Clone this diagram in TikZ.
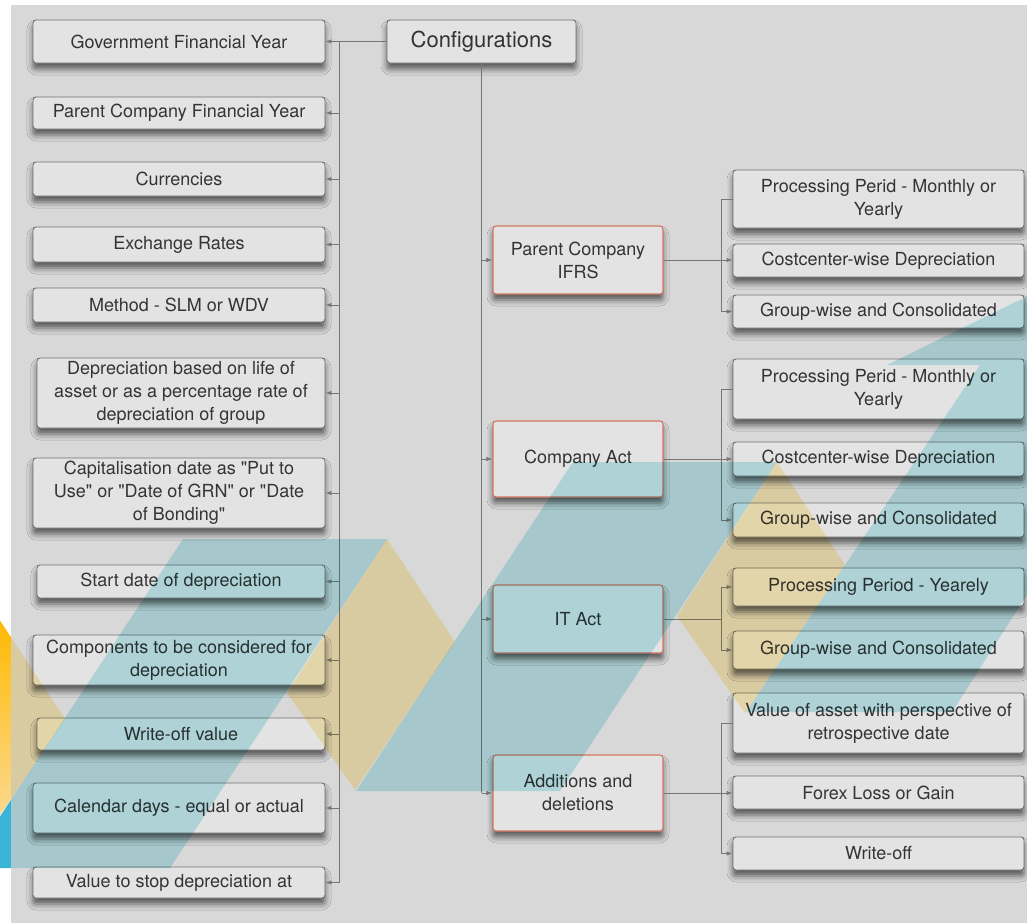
\documentclass[tikz,border=0pt]{standalone}
\usepackage{fontspec}
\newfontfamily\hel{TeX Gyre Heros}
\usetikzlibrary{arrows.meta,shadows.blur}

\definecolor{panel}{RGB}{216,216,216}
\definecolor{boxfill}{RGB}{227,227,227}
\definecolor{boxline}{RGB}{112,112,112}
\definecolor{redline}{RGB}{214,118,96}
\definecolor{linec}{RGB}{118,118,118}
\definecolor{txt}{RGB}{52,52,52}
\definecolor{tealsat}{RGB}{58,180,214}
\definecolor{tealmul}{RGB}{196,237,241}
\definecolor{tanmul}{RGB}{255,240,192}
\definecolor{orangetop}{RGB}{255,184,0}
\definecolor{orangebot}{RGB}{250,226,180}

\begin{document}
\begin{tikzpicture}[x=1bp,y=-1bp,
  box/.style={draw=boxline, line width=0.9bp, fill=boxfill, rounded corners=3bp,
    text=txt, align=center, inner sep=0pt,
    font=\hel\fontsize{18bp}{23bp}\selectfont,
    blur shadow={shadow xshift=0bp, shadow yshift=-6bp, shadow blur radius=6bp, shadow opacity=60}},
  lbox/.style={box, minimum width=292bp},
  lboxn/.style={box, minimum width=288bp},
  mbox/.style={box, draw=redline, line width=1.1bp, minimum width=170bp},
  rbox/.style={box, minimum width=291bp},
  conn/.style={draw=linec, line width=1bp},
  arr/.style={conn, -{Latex[length=6bp,width=4.5bp]}}
]
\useasboundingbox (0,0) rectangle (1027,923);

% saturated background shapes (visible outside the grey panel)
\shade[top color=orangetop, bottom color=orangebot] (-3,616) -- (65,719) -- (-35,867) -- (-103,770) -- cycle;
\fill[tealsat] (183,539) -- (387,539) -- (170,868) -- (-34,868) -- cycle;

% grey panel
\fill[panel] (11,5) rectangle (1027,923);

% nodes
\node[box, minimum width=189bp, minimum height=43bp, font=\hel\fontsize{22bp}{26bp}\selectfont] (conf) at (481.5,41.5) {Configurations};

\node[lbox, minimum height=43bp] (gov) at (179,41.5) {Government Financial Year};
\node[lbox, minimum height=32bp] (pfy) at (179,113) {Parent Company Financial Year};
\node[lbox, minimum height=34bp] (cur) at (179,179) {Currencies};
\node[lbox, minimum height=35bp] (exr) at (179,244.5) {Exchange Rates};
\node[lbox, minimum height=34bp] (meth) at (179,305) {Method - SLM or WDV};
\node[lboxn, minimum height=70bp] (dep) at (181,393) {Depreciation based on life of\\asset or as a percentage rate of\\depreciation of group};
\node[lbox, minimum height=70bp] (cap) at (179,493) {Capitalisation date as "Put to\\Use" or "Date of GRN" or "Date\\of Bonding"};
\node[lboxn, minimum height=33bp] (start) at (181,581.5) {Start date of depreciation};
\node[lbox, minimum height=50bp] (comp) at (179,660) {Components to be considered for\\depreciation};
\node[lboxn, minimum height=32bp] (wov) at (181,734) {Write-off value};
\node[lbox, minimum height=50bp] (cal) at (179,808) {Calendar days - equal or actual};
\node[lbox, minimum height=31bp] (vstop) at (179,882.5) {Value to stop depreciation at};

\node[mbox, minimum height=68bp] (pifrs) at (578,260) {Parent Company\\IFRS};
\node[mbox, minimum height=76bp] (cact) at (578,459) {Company Act};
\node[mbox, minimum height=68bp] (itact) at (578,619) {IT Act};
\node[mbox, minimum height=76bp] (add) at (578,793) {Additions and\\deletions};

\node[rbox, minimum height=58bp] (p1) at (878.5,199) {Processing Perid - Monthly or\\Yearly};
\node[rbox, minimum height=33bp] (c1) at (878.5,260.5) {Costcenter-wise Depreciation};
\node[rbox, minimum height=33bp] (g1) at (878.5,311.5) {Group-wise and Consolidated};
\node[rbox, minimum height=60bp] (p2) at (878.5,389) {Processing Perid - Monthly or\\Yearly};
\node[rbox, minimum height=34bp] (c2) at (878.5,459) {Costcenter-wise Depreciation};
\node[rbox, minimum height=34bp] (g2) at (878.5,520) {Group-wise and Consolidated};
\node[rbox, minimum height=38bp] (p3) at (878.5,587) {Processing Period - Yearely};
\node[rbox, minimum height=38bp] (g3) at (878.5,650) {Group-wise and Consolidated};
\node[rbox, minimum height=60bp] (v4) at (878.5,723) {Value of asset with perspective of\\retrospective date};
\node[rbox, minimum height=33bp] (f4) at (878.5,792.5) {Forex Loss or Gain};
\node[rbox, minimum height=33bp] (w4) at (878.5,853.5) {Write-off};

% connectors: left trunk
\coordinate (lt) at (339,41.5);
\draw[arr] (conf.west) -- (gov.east);
\draw[conn] (lt) -- (lt |- vstop.east);
\foreach \n in {pfy,cur,exr,meth,dep,cap,start,comp,wov,cal,vstop}
  \draw[arr] (lt |- \n.east) -- (\n.east);

% middle trunk
\draw[conn] (conf.south) -- (conf.south |- add.west);
\foreach \n in {pifrs,cact,itact,add}
  \draw[arr] (conf.south |- \n.west) -- (\n.west);

% right branches
\coordinate (rb) at (721,0);
\draw[conn] (p1.west) -- (p1.west -| rb) -- (g1.west -| rb);
\draw[arr] (pifrs.east) -- (pifrs.east -| c1.west);
\draw[arr] (g1.west -| rb) -- (g1.west);

\draw[conn] (p2.west) -- (p2.west -| rb) -- (g2.west -| rb);
\draw[arr] (cact.east) -- (c2.west);
\draw[arr] (g2.west -| rb) -- (g2.west);

\draw[conn] (itact.east) -- (itact.east -| rb);
\draw[arr] (itact.east -| rb) |- (p3.west);
\draw[arr] (itact.east -| rb) |- (g3.west);

\draw[conn] (v4.west) -- (v4.west -| rb) -- (w4.west -| rb);
\draw[arr] (add.east) -- (add.east -| f4.west);
\draw[arr] (w4.west -| rb) -- (w4.west);

% colour overlays on the panel (multiplied, so text stays dark)
\begin{scope}[blend mode=multiply]
\clip (11,5) rectangle (1027,923);
\fill[tealmul] (183,539) -- (387,539) -- (170,868) -- (-34,868) -- cycle;
\fill[tealmul] (573,462) -- (777,462) -- (560,791) -- (356,791) -- cycle;
\fill[tealmul] (746,712) -- (980,365) -- (887,365) -- (1030,295) -- (1030,590) -- (952,712) -- cycle;
\fill[tanmul] (-3,616) -- (65,719) -- (-35,867) -- (-103,770) -- cycle;
\fill[tanmul] (387,539) -- (455,642) -- (355,790) -- (287,693) -- cycle;
\fill[tanmul] (777,462) -- (845,565) -- (745,713) -- (677,616) -- cycle;
\end{scope}
\end{tikzpicture}
\end{document}
